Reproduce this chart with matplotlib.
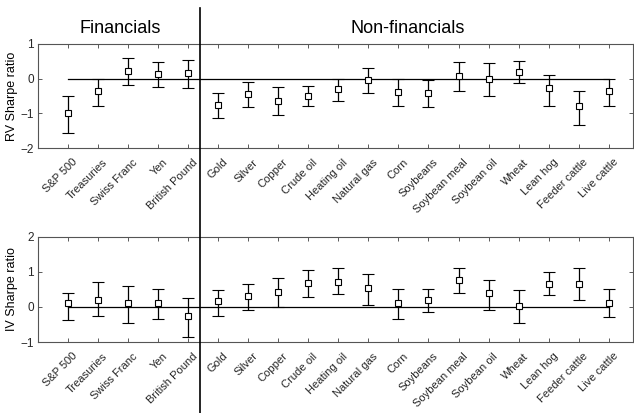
import matplotlib
matplotlib.use("Agg")
import matplotlib.pyplot as plt
import matplotlib.transforms as mtrans
from matplotlib.lines import Line2D
import numpy as np

plt.rcParams['font.family'] = ['Liberation Sans', 'DejaVu Sans']

# markets
labels = ['S&P 500', 'Treasuries', 'Swiss Franc', 'Yen', 'British Pound',
          'Gold', 'Silver', 'Copper', 'Crude oil', 'Heating oil', 'Natural gas',
          'Corn', 'Soybeans', 'Soybean meal', 'Soybean oil', 'Wheat',
          'Lean hog', 'Feeder cattle', 'Live cattle']
n_fin = 5

# RV Sharpe ratio: estimate, upper and lower bound
rv_est = [-0.98, -0.37, 0.21, 0.13, 0.16, -0.76, -0.44, -0.64, -0.50, -0.31,
          -0.04, -0.39, -0.41, 0.08, 0.00, 0.18, -0.28, -0.80, -0.35]
rv_hi = [-0.51, -0.01, 0.59, 0.48, 0.53, -0.42, -0.10, -0.24, -0.22, 0.00,
         0.30, -0.01, -0.04, 0.48, 0.45, 0.51, 0.11, -0.35, -0.01]
rv_lo = [-1.57, -0.78, -0.19, -0.23, -0.26, -1.13, -0.83, -1.05, -0.78, -0.64,
         -0.42, -0.78, -0.83, -0.36, -0.49, -0.14, -0.78, -1.34, -0.78]

# IV Sharpe ratio
iv_est = [0.10, 0.21, 0.12, 0.10, -0.27, 0.16, 0.30, 0.42, 0.69, 0.72,
          0.53, 0.10, 0.21, 0.77, 0.39, 0.03, 0.67, 0.67, 0.12]
iv_hi = [0.39, 0.70, 0.61, 0.50, 0.25, 0.48, 0.66, 0.82, 1.06, 1.10,
         0.93, 0.50, 0.52, 1.10, 0.76, 0.48, 0.99, 1.10, 0.50]
iv_lo = [-0.37, -0.26, -0.47, -0.33, -0.87, -0.26, -0.08, -0.01, 0.28, 0.37,
         0.05, -0.35, -0.13, 0.41, -0.08, -0.47, 0.34, 0.21, -0.29]

x = np.arange(1, len(labels) + 1)

fig = plt.figure(figsize=(6.34, 4.13), dpi=100)
ax1 = fig.add_axes([0.060, 0.6416, 0.938, 0.252])
ax2 = fig.add_axes([0.060, 0.1719, 0.938, 0.2543])

panels = [(ax1, rv_est, rv_lo, rv_hi, (-2, 1), 'RV Sharpe ratio'),
          (ax2, iv_est, iv_lo, iv_hi, (-1, 2), 'IV Sharpe ratio')]

# nudge the rotated labels so they end just right of their tick
shift = mtrans.ScaledTranslation(3 / 72, 0, fig.dpi_scale_trans)

for ax, est, lo, hi, ylim, ylab in panels:
    est = np.array(est)
    err = [est - np.array(lo), np.array(hi) - est]
    ax.plot([x[0], x[-1]], [0, 0], color='black', lw=0.9, zorder=1)
    ax.errorbar(x, est, yerr=err, fmt='s', mfc='white', mec='black', mew=0.8,
                ms=4.5, ecolor='black', elinewidth=0.9, capsize=4,
                capthick=0.9, zorder=3)
    ax.set_xlim(0, 19.8)
    ax.set_ylim(*ylim)
    ax.set_yticks(range(ylim[0], ylim[1] + 1))
    ax.set_xticks(x)
    ax.tick_params(axis='both', direction='in', length=3, width=0.6,
                   top=True, right=True, colors='#404040', labelcolor='#262626',
                   pad=3)
    ax.tick_params(axis='x', pad=6.5)
    ax.tick_params(axis='y', labelsize=8.5)
    ax.set_xticklabels(labels, rotation=45, ha='right', rotation_mode='anchor',
                       fontsize=8)
    for t in ax.get_xticklabels():
        t.set_transform(t.get_transform() + shift)
    ax.set_ylabel(ylab, fontsize=9, labelpad=2)
    for s in ax.spines.values():
        s.set_color('#555555')
        s.set_linewidth(0.8)

# divider between financials and non-financials
tr = mtrans.blended_transform_factory(ax1.transData, fig.transFigure)
fig.add_artist(Line2D([n_fin + 0.4, n_fin + 0.4], [0, 0.98], transform=tr,
                      color='black', lw=1.2))

fig.text(2.75, 0.93, 'Financials', transform=tr, ha='center', va='center',
         fontsize=13)
fig.text(12.3, 0.93, 'Non-financials', transform=tr, ha='center',
         va='center', fontsize=13)

fig.savefig('out.png', dpi=100)
